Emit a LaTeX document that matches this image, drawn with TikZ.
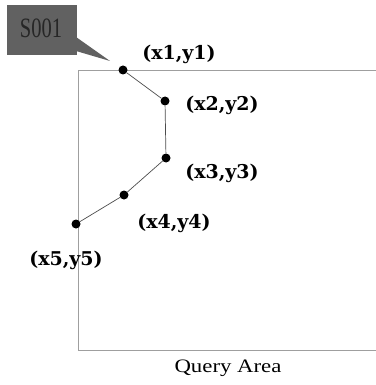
\documentclass[tikz,border=0pt]{standalone}
\usepackage{fontspec}
\setmainfont{Liberation Serif}
\newfontfamily\labelfont{DejaVu Serif}
\begin{document}
\begin{tikzpicture}[x=1pt,y=-1pt,
  border/.style={draw=gray!75,line width=0.7pt},
  track/.style={draw=gray!60!black,line width=0.7pt},
  vertex/.style={circle,fill=black,inner sep=0pt,minimum size=9pt},
  coordlabel/.style={font=\labelfont\bfseries\fontsize{19}{21}\selectfont,inner sep=0pt,text=black},
  callout/.style={fill=black!62,draw=none}]
\useasboundingbox (0,0) rectangle (375,385);

% query area (open on the right side)
\draw[border] (376,70) -- (78,70) -- (78,350) -- (376,350);
\node[font=\fontsize{19}{21}\selectfont,inner sep=0pt,xscale=1.2] (qa) at (228,368) {Query Area};

% trajectory vertices
\node[vertex] (p1) at (123,70) {};
\node[vertex] (p2) at (165,101) {};
\node[vertex] (p3) at (166,158) {};
\node[vertex] (p4) at (124,195) {};
\node[vertex] (p5) at (76,224) {};
\draw[track] (p1) -- (p2) -- (p3) -- (p4) -- (p5);

% vertex labels
\node[coordlabel] (l1) at (179,54) {(x1,y1)};
\node[coordlabel] (l2) at (222,105) {(x2,y2)};
\node[coordlabel] (l3) at (222,173) {(x3,y3)};
\node[coordlabel] (l4) at (174,223) {(x4,y4)};
\node[coordlabel] (l5) at (66,260) {(x5,y5)};

% object id callout
\fill[callout] (7,5) rectangle (77,55);
\coordinate (tip) at (110,61);
\fill[callout] (76,37) -- (tip) -- (76,51) -- cycle;
\node[font=\fontsize{25}{27}\selectfont,text=black!85,inner sep=0pt,xscale=0.82,yscale=1.12] (id) at (41,28) {S001};
\end{tikzpicture}
\end{document}
